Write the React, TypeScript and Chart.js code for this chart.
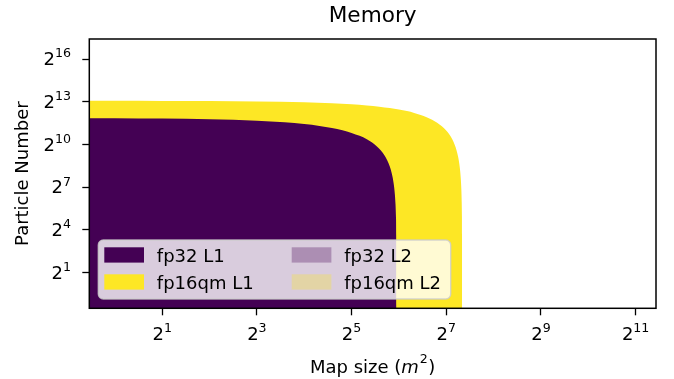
import { useEffect, useRef } from 'react';
import { Chart, registerables } from 'chart.js';

Chart.register(...registerables);

const FONT = '"DejaVu Sans", sans-serif';

// Text
const chartTitle = 'Memory';
const xTitleParts = ['Map size (', 'm', '2', ')'];
const yTitle = 'Particle Number';

// Axes (log base 2)
const tickBase = '2';
const xTickExponents = [1, 3, 5, 7, 9, 11];
const yTickExponents = [1, 4, 7, 10, 13, 16];
const xTickLabels = ['1', '3', '5', '7', '9', '11'];
const yTickLabels = ['1', '4', '7', '10', '13', '16'];
const xMin = 0.688;
const xMax = 2759;
const yMin = 0.354;
const yMax = 174000;

// Boundary of each feasible region: map size (m^2) vs. particle count
const fp32L1Map = [0.5, 1, 2, 4, 8, 12, 16, 20, 24, 28, 32, 36, 40, 43, 46, 49, 52, 54, 56, 57.5, 58.5, 59.5, 60.3, 60.9, 61.3, 61.6, 61.8];
const fp32L1Particles = [3712, 3681, 3621, 3500, 3258, 3015, 2773, 2531, 2289, 2047, 1804, 1562, 1320, 1138, 957, 775, 593, 472, 351, 260, 200, 139, 91, 55, 30, 12, 0.1];

const fp16qmL1Map = [0.5, 1, 2, 4, 8, 16, 24, 32, 40, 48, 56, 64, 72, 80, 88, 96, 104, 112, 120, 127, 134, 140, 145, 149, 152.5, 155, 157, 158.5, 159.7, 160.5, 161, 161.3, 161.5];
const fp16qmL1Particles = [8589, 8575, 8545, 8478, 8329, 7998, 7640, 7264, 6872, 6469, 6056, 5634, 5204, 4766, 4322, 3872, 3415, 2954, 2488, 2076, 1662, 1303, 1003, 761, 548, 397, 275, 184, 110, 61, 31, 12, 0.1];

const fp32L2Map: number[] = [];
const fp32L2Particles: number[] = [];
const fp16qmL2Map: number[] = [];
const fp16qmL2Particles: number[] = [];

const seriesLabels = ['fp32 L1', 'fp16qm L1', 'fp32 L2', 'fp16qm L2'];
const seriesColors = ['#440154', '#fde725', 'rgba(68,1,84,0.3)', 'rgba(253,231,37,0.3)'];

const toPoints = (xs: number[], ys: number[]) => xs.map((x, i) => ({ x, y: ys[i] }));

const seriesData = [
  toPoints(fp32L1Map, fp32L1Particles),
  toPoints(fp16qmL1Map, fp16qmL1Particles),
  toPoints(fp32L2Map, fp32L2Particles),
  toPoints(fp16qmL2Map, fp16qmL2Particles),
];

const BASE_PX = 18;
const SUP_PX = 12.6;
const TITLE_PX = 21.6;

function drawPower(ctx: CanvasRenderingContext2D, exp: string, x: number, y: number, align: 'center' | 'right', raise: number) {
  ctx.font = `${BASE_PX}px ${FONT}`;
  const wb = ctx.measureText(tickBase).width;
  ctx.font = `${SUP_PX}px ${FONT}`;
  const we = ctx.measureText(exp).width;
  const total = wb + we;
  const start = align === 'center' ? x - total / 2 : x - total;
  ctx.textAlign = 'left';
  ctx.textBaseline = 'alphabetic';
  ctx.font = `${BASE_PX}px ${FONT}`;
  ctx.fillText(tickBase, start, y);
  ctx.font = `${SUP_PX}px ${FONT}`;
  ctx.fillText(exp, start + wb, y - raise);
}

function roundedRect(ctx: CanvasRenderingContext2D, x: number, y: number, w: number, h: number, r: number) {
  ctx.beginPath();
  ctx.moveTo(x + r, y);
  ctx.lineTo(x + w - r, y);
  ctx.arcTo(x + w, y, x + w, y + r, r);
  ctx.lineTo(x + w, y + h - r);
  ctx.arcTo(x + w, y + h, x + w - r, y + h, r);
  ctx.lineTo(x + r, y + h);
  ctx.arcTo(x, y + h, x, y + h - r, r);
  ctx.lineTo(x, y + r);
  ctx.arcTo(x, y, x + r, y, r);
  ctx.closePath();
}

const decorations = {
  id: 'decorations',
  beforeDraw(chart: any) {
    const ctx = chart.ctx as CanvasRenderingContext2D;
    ctx.save();
    ctx.fillStyle = '#ffffff';
    ctx.fillRect(0, 0, chart.width, chart.height);
    ctx.restore();
  },
  afterDatasetsDraw(chart: any) {
    const ctx = chart.ctx as CanvasRenderingContext2D;
    const area = chart.chartArea;
    ctx.save();

    // legend box, two columns
    const lw = 352.4;
    const lh = 59;
    const lx = area.left + 9;
    const ly = area.bottom - 9.3 - lh;
    roundedRect(ctx, lx, ly, lw, lh, 5);
    ctx.fillStyle = 'rgba(255,255,255,0.8)';
    ctx.fill();
    ctx.strokeStyle = 'rgba(204,204,204,0.8)';
    ctx.lineWidth = 1.4;
    ctx.stroke();

    ctx.font = `${BASE_PX}px ${FONT}`;
    ctx.textAlign = 'left';
    ctx.textBaseline = 'alphabetic';
    chart.data.datasets.forEach((ds: any, i: number) => {
      const col = Math.floor(i / 2);
      const row = i % 2;
      const px = lx + 6 + col * 187.4;
      const py = ly + 7.3 + row * 27;
      ctx.fillStyle = ds.backgroundColor;
      ctx.fillRect(px, py, 39.7, 15.3);
      ctx.fillStyle = '#000000';
      ctx.fillText(ds.label, px + 52.5, ly + 22.3 + row * 27);
    });

    // frame
    ctx.strokeStyle = '#000000';
    ctx.lineWidth = 1.5;
    ctx.strokeRect(area.left, area.top, area.right - area.left, area.bottom - area.top);
    ctx.restore();
  },
  afterDraw(chart: any) {
    const ctx = chart.ctx as CanvasRenderingContext2D;
    const area = chart.chartArea;
    const xs = chart.scales.x;
    const ys = chart.scales.y;
    ctx.save();
    ctx.fillStyle = '#000000';

    // tick labels
    xTickExponents.forEach((e, i) => {
      const px = xs.getPixelForValue(2 ** e);
      drawPower(ctx, xTickLabels[i], px, area.bottom + 31.7, 'center', 7.7);
    });
    yTickExponents.forEach((e, i) => {
      const py = ys.getPixelForValue(2 ** e);
      drawPower(ctx, yTickLabels[i], area.left - 18.3, py + 6, 'right', 7.7);
    });

    const cx = (area.left + area.right) / 2;
    const cy = (area.top + area.bottom) / 2;

    // title
    ctx.font = `${TITLE_PX}px ${FONT}`;
    ctx.textAlign = 'center';
    ctx.textBaseline = 'alphabetic';
    ctx.fillText(chartTitle, cx, area.top - 17.5);

    // y axis title
    ctx.font = `${BASE_PX}px ${FONT}`;
    ctx.save();
    ctx.translate(27.5, cy);
    ctx.rotate(-Math.PI / 2);
    ctx.fillText(yTitle, 0, 0);
    ctx.restore();

    // x axis title with italic m and superscript
    const fonts = [
      `${BASE_PX}px ${FONT}`,
      `italic ${BASE_PX}px ${FONT}`,
      `${SUP_PX}px ${FONT}`,
      `${BASE_PX}px ${FONT}`,
    ];
    const rises = [0, 0, 9.5, 0];
    const gaps = [0, 0.8, 0.6, 0];
    const widths = xTitleParts.map((t, i) => {
      ctx.font = fonts[i];
      return ctx.measureText(t).width;
    });
    const total = widths.reduce((a, b) => a + b, 0) + gaps.reduce((a, b) => a + b, 0);
    let x = cx - total / 2;
    const base = area.bottom + 64.4;
    ctx.textAlign = 'left';
    xTitleParts.forEach((t, i) => {
      ctx.font = fonts[i];
      ctx.fillText(t, x, base - rises[i]);
      x += widths[i] + gaps[i];
    });
    ctx.restore();
  },
};

const tickGrid = {
  display: true,
  drawOnChartArea: false,
  drawTicks: true,
  tickLength: 7,
  tickColor: '#000000',
  tickWidth: 1.3,
  color: '#000000',
};

export default function App() {
  const ref = useRef<HTMLCanvasElement>(null);

  useEffect(() => {
    if (!ref.current) return;
    const chart = new Chart(ref.current, {
      type: 'line',
      data: {
        datasets: seriesLabels.map((label, i) => ({
          label,
          data: seriesData[i],
          backgroundColor: seriesColors[i],
          borderColor: 'rgba(0,0,0,0)',
          borderWidth: 0,
          pointRadius: 0,
          fill: 'start',
          cubicInterpolationMode: 'monotone',
          order: i,
        })),
      },
      options: {
        animation: false,
        responsive: false,
        events: [],
        layout: { padding: { top: 39, right: 18, left: 0, bottom: 0 } },
        plugins: {
          legend: { display: false },
          title: { display: false },
          tooltip: { enabled: false },
        },
        scales: {
          x: {
            type: 'logarithmic',
            position: 'bottom',
            min: xMin,
            max: xMax,
            border: { display: false },
            grid: tickGrid,
            ticks: { display: false },
            afterBuildTicks: (s: any) => {
              s.ticks = xTickExponents.map((e) => ({ value: 2 ** e }));
            },
            afterFit: (s: any) => {
              s.height = 70.7;
            },
          },
          y: {
            type: 'logarithmic',
            position: 'left',
            min: yMin,
            max: yMax,
            border: { display: false },
            grid: tickGrid,
            ticks: { display: false },
            afterBuildTicks: (s: any) => {
              s.ticks = yTickExponents.map((e) => ({ value: 2 ** e }));
            },
            afterFit: (s: any) => {
              s.width = 89.3;
            },
          },
        },
      } as any,
      plugins: [decorations],
    });
    return () => chart.destroy();
  }, []);

  return (
    <div style={{ position: 'absolute', left: 0, top: 0, width: 674, height: 379 }}>
      <canvas ref={ref} width={674} height={379} style={{ display: 'block' }} />
    </div>
  );
}
